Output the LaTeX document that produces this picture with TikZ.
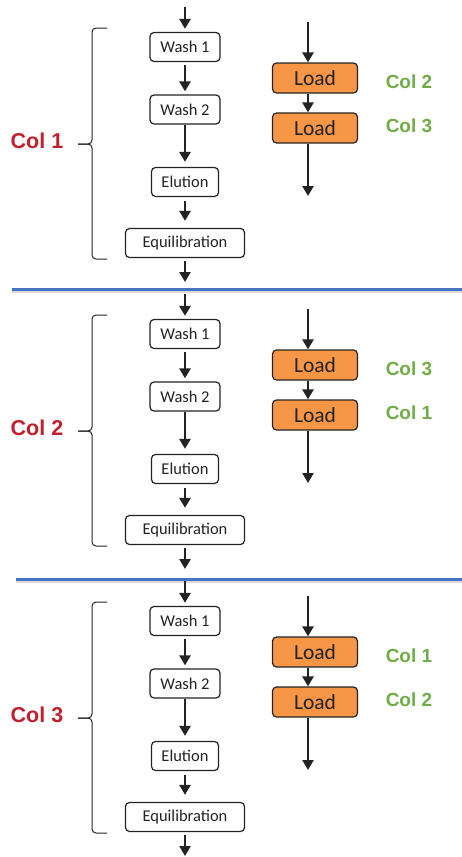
\documentclass[tikz,border=0pt]{standalone}
\usepackage{fontspec}
\setmainfont{Carlito}
\newfontfamily\colfont{Liberation Sans}
\usetikzlibrary{arrows.meta}
\definecolor{loadorange}{RGB}{247,150,70}
\definecolor{colred}{RGB}{192,32,45}
\definecolor{colgreen}{RGB}{112,173,71}
\definecolor{lineblue}{RGB}{68,114,196}
\definecolor{boxgray}{RGB}{35,35,35}
\begin{document}
\begin{tikzpicture}[x=1pt,y=-1pt,
    stepbox/.style={draw=boxgray,line width=1.2pt,rounded corners=4pt,fill=white,
      minimum height=29pt,inner sep=0pt,text=boxgray,font=\fontsize{16.5}{19}\selectfont},
    loadbox/.style={draw=boxgray,line width=1.2pt,rounded corners=4pt,fill=loadorange,
      minimum height=30pt,minimum width=85pt,inner sep=0pt,text=boxgray,font=\fontsize{21.5}{24}\selectfont},
    flow/.style={-{Triangle[width=11pt,length=10pt]},line width=2.7pt,draw=boxgray},
    bracket/.style={draw=boxgray,line width=1pt,rounded corners=4pt},
    colmain/.style={text=colred,font=\colfont\bfseries\fontsize{21.5}{24}\selectfont},
    colside/.style={text=colgreen,font=\colfont\bfseries\fontsize{19}{22}\selectfont}]
  \useasboundingbox (0,0) rectangle (462,857);

  % separators
  \foreach \xs/\y in {12/289,16/579}{
    \draw [gray!30,line width=2pt] (\xs,\y+2.5)--(462,\y+2.5);
    \draw [lineblue,line width=3pt] (\xs,\y)--(462,\y);
  }

  \foreach \p/\me/\ca/\cb in {0/1/2/3,1/2/3/1,2/3/1/2}{
    \pgfmathsetmacro{\o}{287*\p}

    % column being regenerated
    \node [stepbox,minimum width=70pt] (wa\p) at (185,47+\o) {Wash 1};
    \node [stepbox,minimum width=70pt] (wb\p) at (185,109.5+\o) {Wash 2};
    \node [stepbox,minimum width=67pt] (el\p) at (185,182+\o) {Elution};
    \node [stepbox,minimum width=119pt] (eq\p) at (185,243+\o) {Equilibration};
    \coordinate (in\p) at (185,7+\o);
    \coordinate (out\p) at (185,282+\o);

    \draw [flow,shorten >=3pt] (in\p)--(wa\p.north);
    \draw [flow,shorten <=3pt,shorten >=3pt] (wa\p.south)--(wb\p.north);
    \draw [flow,shorten >=5pt] (wb\p.south)--(el\p.north);
    \draw [flow,shorten <=4pt,shorten >=7pt] (el\p.south)--(eq\p.north);
    \draw [flow,shorten <=3pt] (eq\p.south)--(out\p);

    \draw [bracket] (107,28+\o)--(92,28+\o)--(92,144+\o)--(78,144+\o);
    \draw [bracket] (107,259+\o)--(92,259+\o)--(92,144+\o)--(78,144+\o);
    \node [colmain] (cm\p) at (37,141+\o) {Col \me};

    % loading columns
    \node [loadbox] (la\p) at (315,78+\o) {Load};
    \node [loadbox] (lb\p) at (315,128+\o) {Load};
    \coordinate (lin\p) at (308,22+\o);
    \coordinate (lout\p) at (308,196+\o);

    \draw [flow] (lin\p)--([xshift=-7pt]la\p.north);
    \draw [flow] ([xshift=-7pt]la\p.south)--([xshift=-7pt]lb\p.north);
    \draw [flow] ([xshift=-7pt]lb\p.south)--(lout\p);

    \node [colside] (ca\p) at (409,82+\o) {Col \ca};
    \node [colside] (cb\p) at (409,126+\o) {Col \cb};
  }
\end{tikzpicture}
\end{document}
